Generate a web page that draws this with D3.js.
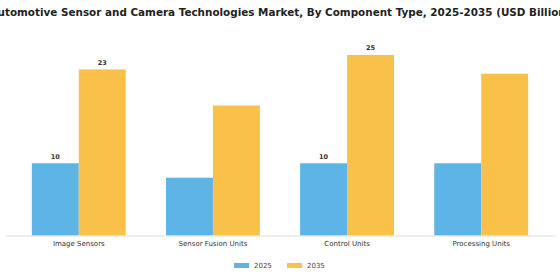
<!DOCTYPE html>
<html><head><meta charset="utf-8">
<script src="https://cdn.jsdelivr.net/npm/d3@7"></script>
<style>body{margin:0;background:#fff;}svg{display:block;font-family:"DejaVu Sans",sans-serif;}</style>
</head><body>
<script>
const categories = ["Image Sensors", "Sensor Fusion Units", "Control Units", "Processing Units"];
const series = ["2025", "2035"];
const values2025 = [10, 8, 10, 10];
const values2035 = [23, 18, 25, 22.4];
const labels2025 = ["10", "", "10", ""];
const labels2035 = ["23", "", "25", ""];
const colors = ["#5DB4E6", "#F9C14A"];

const W = 560, H = 280;
const svg = d3.select("body").append("svg").attr("width", W).attr("height", H);

const x0 = d3.scaleBand().domain(categories).range([5, 555]).paddingInner(0.3).paddingOuter(0.2);
const x1 = d3.scaleBand().domain(series).range([0, x0.bandwidth()]);
const y = d3.scaleLinear().domain([0, 27]).range([235.5, 40.5]);

svg.append("text").attr("x", W/2).attr("y", 15.5).attr("text-anchor", "middle")
  .attr("font-size", 10.4).attr("font-weight", "bold").attr("fill", "#222")
  .text("Automotive Sensor and Camera Technologies Market, By Component Type, 2025-2035 (USD Billion)");

const data = [values2025, values2035];
const labs = [labels2025, labels2035];
series.forEach((s, si) => {
  const g = svg.append("g");
  g.selectAll("rect").data(categories).join("rect")
    .attr("x", c => x0(c) + x1(s))
    .attr("width", x1.bandwidth())
    .attr("y", (c, i) => y(data[si][i]))
    .attr("height", (c, i) => y(0) - y(data[si][i]))
    .attr("fill", colors[si]);
  g.selectAll("text").data(categories).join("text")
    .attr("x", c => x0(c) + x1(s) + x1.bandwidth()/2)
    .attr("y", (c, i) => y(data[si][i]) - 4.5)
    .attr("text-anchor", "middle").attr("font-size", 6.5).attr("font-weight", "bold").attr("fill", "#333")
    .text((c, i) => labs[si][i]);
});

const ax = svg.append("g").attr("transform", `translate(0,${y(0)})`)
  .call(d3.axisBottom(x0).tickSize(0).tickPadding(6));
ax.select(".domain").attr("stroke", "#ddd");
ax.selectAll("text").attr("font-size", 7).attr("fill", "#333").attr("font-family", "DejaVu Sans");

const leg = svg.append("g");
const legX = [234, 287];
series.forEach((s, i) => {
  leg.append("rect").attr("x", legX[i]).attr("y", 263).attr("width", 15).attr("height", 5).attr("fill", colors[i]);
  leg.append("text").attr("x", legX[i] + 20).attr("y", 268).attr("font-size", 7).attr("fill", "#444").text(s);
});
</script>
</body></html>
